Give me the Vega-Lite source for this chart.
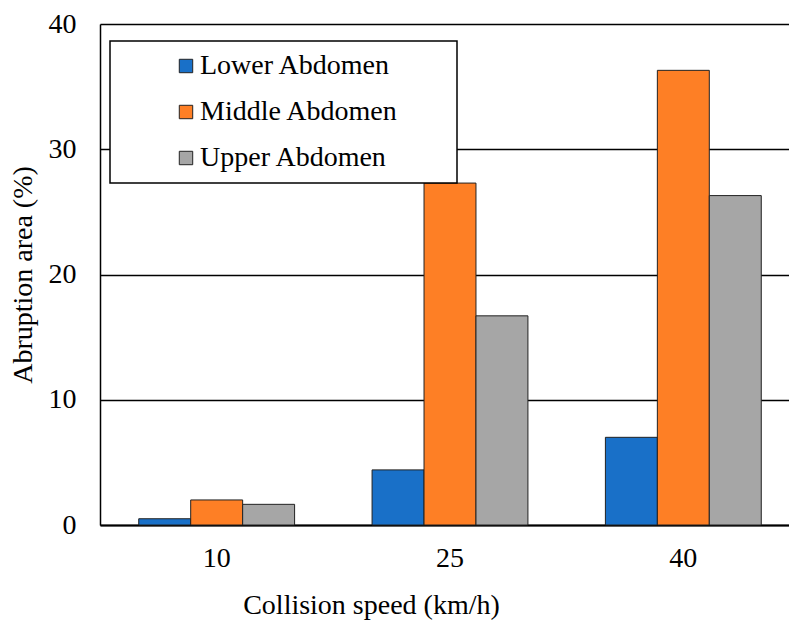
{
  "$schema": "https://vega.github.io/schema/vega-lite/v6.json",
  "width": 689,
  "height": 501,
  "autosize": {"type": "none"},
  "padding": {"left": 100, "top": 24, "right": 0, "bottom": 96},
  "background": "white",
  "config": {
    "font": "Liberation Serif",
    "view": {"stroke": null},
    "axis": {"labelFont": "Liberation Serif", "titleFont": "Liberation Serif", "labelColor": "black", "titleColor": "black", "titleFontWeight": "normal"},
    "legend": {"labelFont": "Liberation Serif"}
  },
  "data": {
    "values": [
      {"speed": "10", "region": "Lower Abdomen", "area": 0.5},
      {"speed": "10", "region": "Middle Abdomen", "area": 2.0},
      {"speed": "10", "region": "Upper Abdomen", "area": 1.65},
      {"speed": "25", "region": "Lower Abdomen", "area": 4.4},
      {"speed": "25", "region": "Middle Abdomen", "area": 27.3},
      {"speed": "25", "region": "Upper Abdomen", "area": 16.7},
      {"speed": "40", "region": "Lower Abdomen", "area": 7.0},
      {"speed": "40", "region": "Middle Abdomen", "area": 36.3},
      {"speed": "40", "region": "Upper Abdomen", "area": 26.3}
    ]
  },
  "mark": {"type": "bar", "stroke": "#222222", "strokeWidth": 1},
  "encoding": {
    "x": {
      "field": "speed",
      "type": "nominal",
      "sort": ["10", "25", "40"],
      "scale": {"range": [0, 700], "paddingInner": 0.332, "paddingOuter": 0.166},
      "axis": {
        "title": "Collision speed (km/h)",
        "labelAngle": 0,
        "labelFontSize": 28,
        "titleFontSize": 28,
        "ticks": false,
        "labelPadding": 19,
        "titlePadding": 19,
        "titleX": 271,
        "titleAlign": "center",
        "domainColor": "black",
        "domainWidth": 2,
        "grid": false
      }
    },
    "xOffset": {
      "field": "region",
      "type": "nominal",
      "sort": ["Lower Abdomen", "Middle Abdomen", "Upper Abdomen"],
      "scale": {"paddingInner": 0, "paddingOuter": 0}
    },
    "y": {
      "field": "area",
      "type": "quantitative",
      "scale": {"domain": [0, 40], "nice": false},
      "axis": {
        "title": "Abruption area (%)",
        "values": [0, 10, 20, 30, 40],
        "labelFontSize": 28,
        "titleFontSize": 28,
        "ticks": false,
        "labelPadding": 24,
        "titlePadding": 11,
        "domainColor": "black",
        "domainWidth": 1.5,
        "grid": true,
        "gridColor": "black",
        "gridWidth": 1.5,
        "gridOpacity": 1
      }
    },
    "color": {
      "field": "region",
      "type": "nominal",
      "sort": ["Lower Abdomen", "Middle Abdomen", "Upper Abdomen"],
      "scale": {
        "domain": ["Lower Abdomen", "Middle Abdomen", "Upper Abdomen"],
        "range": ["#1970C8", "#FE7F25", "#A6A6A6"]
      },
      "legend": {
        "title": null,
        "orient": "none",
        "legendX": 10,
        "legendY": 17,
        "direction": "vertical",
        "fillColor": "white",
        "strokeColor": "black",
        "padding": 11,
        "symbolType": "square",
        "symbolSize": 180,
        "symbolStrokeColor": "#222222",
        "symbolStrokeWidth": 1,
        "symbolOpacity": 1,
        "symbolOffset": 51,
        "labelOffset": 0,
        "labelFontSize": 28,
        "labelColor": "black",
        "labelLimit": 0,
        "rowPadding": 18,
        "labelExpr": "datum.label + '\u00a0\u00a0\u00a0\u00a0\u00a0\u00a0\u2009\u200b'",
        "encode": {"legend": {"update": {"strokeWidth": {"value": 1.5}}}}
      }
    }
  }
}
